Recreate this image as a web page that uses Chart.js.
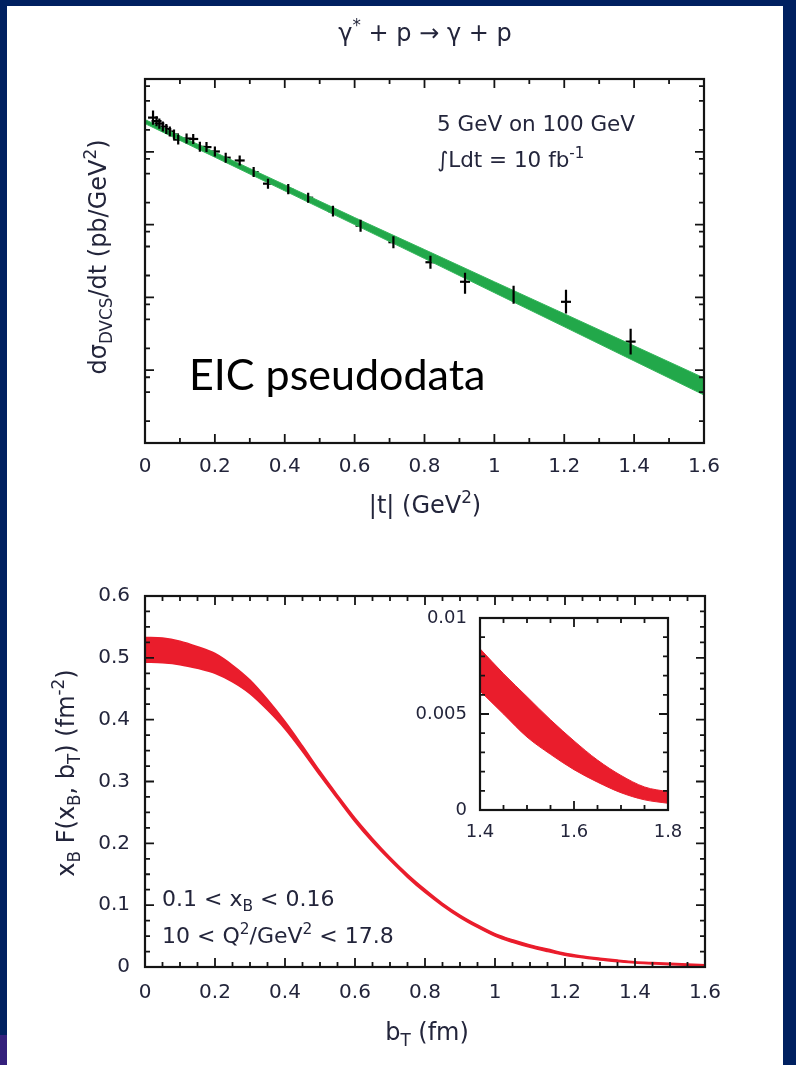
<!DOCTYPE html>
<html>
<head>
<meta charset="utf-8">
<script src="https://cdn.jsdelivr.net/npm/chart.js@4.4.1/dist/chart.umd.min.js"></script>
<style>
  html, body { margin: 0; padding: 0; }
  body { width: 796px; height: 1065px; background: #002060; position: relative; overflow: hidden; }
  #panel { position: absolute; left: 7px; top: 6px; width: 776px; height: 1059px; background: #fff; }
  #strip { position: absolute; left: 0; top: 1035px; width: 7px; height: 30px; background: #34207c; }
  canvas { position: absolute; left: 0; top: 0; }
</style>
</head>
<body>
<div id="panel"></div>
<div id="strip"></div>
<canvas id="dvcs" width="796" height="1065"></canvas>
<canvas id="profile" width="796" height="1065"></canvas>
<canvas id="tail" width="796" height="1065"></canvas>
<script>
// ---- DVCS cross section: pseudodata (5 GeV on 100 GeV, 10 fb^-1) ----
const tData   = [0.023, 0.033, 0.041, 0.051, 0.061, 0.071, 0.083, 0.095, 0.119, 0.138, 0.157, 0.176, 0.200, 0.231,
                 0.271, 0.311, 0.352, 0.410, 0.467, 0.538, 0.617, 0.711, 0.817, 0.916, 1.055, 1.205, 1.390];
const sigma   = [295, 264, 244, 222, 205, 190, 173, 147, 152, 150, 117, 116, 101, 83,
                 76, 52.6, 36.5, 30.7, 23.4, 15.3, 9.66, 5.73, 3.04, 1.64, 1.09, 0.87, 0.247];
const sigmaLo = [236, 225, 208, 190, 175, 162, 148, 126, 130, 128, 100, 99, 86, 71,
                 65, 44.9, 31.2, 26.2, 20.0, 12.9, 8.0, 4.74, 2.48, 1.12, 0.82, 0.60, 0.164];
const sigmaHi = [368, 309, 286, 260, 240, 222, 203, 172, 178, 176, 137, 136, 118, 97,
                 89, 61.6, 42.7, 36.0, 27.4, 18.1, 11.7, 6.93, 3.72, 2.18, 1.45, 1.27, 0.372];

// model band for dsigma/dt
const tBand  = [0, 0.2, 0.4, 0.6, 0.8, 1.0, 1.2, 1.4, 1.6];
const bandLo = [244, 84.3, 29.1, 10.0, 3.42, 1.16, 0.395, 0.134, 0.0457];
const bandHi = [277, 98.7, 35.2, 12.5, 4.54, 1.64, 0.596, 0.216, 0.0783];

// ---- impact-parameter profile x_B F(x_B, b_T) ----
const bT  = [0, 0.05, 0.1, 0.15, 0.2, 0.25, 0.3, 0.35, 0.4, 0.45, 0.5, 0.55, 0.6, 0.65, 0.7, 0.75, 0.8,
             0.85, 0.9, 0.95, 1.0, 1.05, 1.1, 1.15, 1.2, 1.25, 1.3, 1.35, 1.4, 1.45, 1.5, 1.55, 1.6];
const fLo = [0.493, 0.492, 0.489, 0.483, 0.475, 0.461, 0.442, 0.4155, 0.385, 0.3485, 0.3095, 0.272, 0.235,
             0.202, 0.1725, 0.145, 0.1205, 0.099, 0.080, 0.064, 0.050, 0.040, 0.0318, 0.025, 0.0188, 0.0148,
             0.0113, 0.0086, 0.0063, 0.0050, 0.0038, 0.0029, 0.0021];
const fHi = [0.533, 0.532, 0.527, 0.518, 0.507, 0.488, 0.464, 0.4325, 0.397, 0.3575, 0.3165, 0.278, 0.241,
             0.208, 0.1775, 0.150, 0.1255, 0.103, 0.084, 0.068, 0.054, 0.044, 0.0358, 0.029, 0.0222, 0.0178,
             0.0143, 0.0112, 0.0086, 0.0071, 0.0059, 0.0047, 0.0036];

// tail of the profile (inset)
const bTail   = [1.40, 1.45, 1.50, 1.55, 1.60, 1.65, 1.70, 1.75, 1.80];
const fTailLo = [0.0062, 0.0050, 0.0038, 0.0029, 0.0021, 0.00145, 0.0009, 0.00053, 0.00035];
const fTailHi = [0.0084, 0.0071, 0.0059, 0.0047, 0.0036, 0.0026, 0.0018, 0.0012, 0.00095];

// ---- tick values and labels ----
const tTicks    = [0, 0.2, 0.4, 0.6, 0.8, 1, 1.2, 1.4, 1.6];
const tLabels   = ['0', '0.2', '0.4', '0.6', '0.8', '1', '1.2', '1.4', '1.6'];
const sigDecades = [0.01, 0.1, 1, 10, 100, 1000];
const sigMinor   = [0.02, 0.05, 0.08, 0.2, 0.5, 0.8, 2, 5, 8, 20, 50, 80, 200, 500, 800];
const bTicks    = [0, 0.2, 0.4, 0.6, 0.8, 1, 1.2, 1.4, 1.6];
const bLabels   = ['0', '0.2', '0.4', '0.6', '0.8', '1', '1.2', '1.4', '1.6'];
const fTicks    = [0, 0.1, 0.2, 0.3, 0.4, 0.5, 0.6];
const fLabels   = ['0', '0.1', '0.2', '0.3', '0.4', '0.5', '0.6'];
const tailBTicks  = [1.4, 1.6, 1.8];
const tailBLabels = ['1.4', '1.6', '1.8'];
const tailFTicks  = [0, 0.005, 0.01];
const tailFLabels = ['0', '0.005', '0.01'];

const GREEN = '#22a84a';
const RED = '#ea1d2c';
const INK = '#23253b';
const FAM = "'DejaVu Sans', sans-serif";

Chart.defaults.font.family = FAM;
Chart.defaults.color = INK;

// evenly spaced minor tick positions, skipping the major ones
function minorTicks(from, to, step, majors) {
  const out = [];
  const n = Math.round((to - from) / step);
  for (let i = 0; i <= n; i++) {
    const v = +(from + i * step).toFixed(6);
    if (!majors.some(m => Math.abs(m - v) < step / 10)) out.push(v);
  }
  return out;
}

// gnuplot-style frame with inward ticks on all four sides
function frame(cfg) {
  return {
    id: 'frame',
    beforeDatasetsDraw(chart) {
      if (!cfg.white) return;
      const { ctx, chartArea: a } = chart;
      ctx.save();
      ctx.fillStyle = '#fff';
      ctx.fillRect(a.left, a.top, a.right - a.left, a.bottom - a.top);
      ctx.restore();
    },
    afterDatasetsDraw(chart) {
      const { ctx, chartArea: a } = chart;
      const sx = chart.scales.x, sy = chart.scales.y;
      ctx.save();
      ctx.strokeStyle = '#141414';
      ctx.lineWidth = 1.8;
      ctx.beginPath();
      const vx = (v, len) => {
        const p = sx.getPixelForValue(v);
        ctx.moveTo(p, a.bottom); ctx.lineTo(p, a.bottom - len);
        ctx.moveTo(p, a.top); ctx.lineTo(p, a.top + len);
      };
      const vy = (v, len) => {
        const p = sy.getPixelForValue(v);
        ctx.moveTo(a.left, p); ctx.lineTo(a.left + len, p);
        ctx.moveTo(a.right, p); ctx.lineTo(a.right - len, p);
      };
      cfg.xMajor.forEach(v => vx(v, cfg.major));
      cfg.xMinor.forEach(v => vx(v, cfg.minor));
      cfg.yMajor.forEach(v => vy(v, cfg.major));
      cfg.yMinor.forEach(v => vy(v, cfg.minor));
      ctx.stroke();
      ctx.lineWidth = 2.2;
      ctx.strokeRect(a.left, a.top, a.right - a.left, a.bottom - a.top);
      ctx.restore();
    }
  };
}

// text with sub/superscripts: parts = [[text, kind]], kind 0 normal, 1 sub, 2 sup
function rich(ctx, parts, x, y, size, align, rot, family) {
  const fam = family || FAM;
  ctx.save();
  ctx.translate(x, y);
  if (rot) ctx.rotate(rot);
  ctx.textBaseline = 'alphabetic';
  ctx.textAlign = 'left';
  let w = 0;
  const widths = parts.map(([t, k]) => {
    ctx.font = (k ? size * 0.7 : size) + 'px ' + fam;
    const m = ctx.measureText(t).width;
    w += m;
    return m;
  });
  let cx = align === 'center' ? -w / 2 : align === 'right' ? -w : 0;
  parts.forEach(([t, k], i) => {
    ctx.font = (k ? size * 0.7 : size) + 'px ' + fam;
    const dy = k === 1 ? size * 0.24 : k === 2 ? -size * 0.42 : 0;
    ctx.fillText(t, cx, dy);
    cx += widths[i];
  });
  ctx.restore();
}

const fixedTicks = (vals) => function (s) { s.ticks = vals.map(v => ({ value: v })); };
const plainGrid = { display: false, drawTicks: false };

// ---------------- upper panel: dsigma/dt ----------------
const errorBars = {
  id: 'errorBars',
  afterDatasetsDraw(chart) {
    const { ctx } = chart;
    const sx = chart.scales.x, sy = chart.scales.y;
    ctx.save();
    ctx.strokeStyle = '#000';
    ctx.lineWidth = 2.2;
    ctx.beginPath();
    tData.forEach((t, i) => {
      const px = sx.getPixelForValue(t);
      ctx.moveTo(px, sy.getPixelForValue(sigmaLo[i]));
      ctx.lineTo(px, sy.getPixelForValue(sigmaHi[i]));
    });
    ctx.stroke();
    ctx.restore();
  }
};

const dvcsText = {
  id: 'dvcsText',
  afterDraw(chart) {
    const ctx = chart.ctx;
    ctx.fillStyle = INK;
    rich(ctx, [['γ', 0], ['*', 2], [' + p → γ + p', 0]], 425, 41, 24, 'center');
    rich(ctx, [['5 GeV on 100 GeV', 0]], 437, 131, 21.5, 'left');
    rich(ctx, [['∫Ldt = 10 fb', 0], ['-1', 2]], 437, 167, 21.5, 'left');
    rich(ctx, [['|t| (GeV', 0], ['2', 2], [')', 0]], 425, 513, 24, 'center');
    rich(ctx, [['dσ', 0], ['DVCS', 1], ['/dt (pb/GeV', 0], ['2', 2], [')', 0]], 106, 257, 24, 'center', -Math.PI / 2);
    ctx.fillStyle = '#000';
    rich(ctx, [['EIC pseudodata', 0]], 189, 390, 43, 'left', 0, "Lato, 'Open Sans', sans-serif");
  }
};

new Chart(document.getElementById('dvcs'), {
  type: 'line',
  data: {
    datasets: [
      { data: tBand.map((t, i) => ({ x: t, y: bandLo[i] })), borderColor: '#35b65c', borderWidth: 1, pointRadius: 0, fill: false },
      { data: tBand.map((t, i) => ({ x: t, y: bandHi[i] })), borderColor: '#35b65c', borderWidth: 1, pointRadius: 0, fill: '-1', backgroundColor: GREEN },
      { type: 'scatter', data: tData.map((t, i) => ({ x: t, y: sigma[i] })), showLine: false,
        pointStyle: 'line', pointRadius: 5, pointBorderColor: '#000', pointBorderWidth: 2.2, borderColor: '#000' }
    ]
  },
  options: {
    responsive: false, animation: false, devicePixelRatio: 1,
    layout: { padding: { left: 0, top: 79, right: 92, bottom: 562 } },
    plugins: { legend: { display: false }, tooltip: { enabled: false } },
    scales: {
      x: {
        type: 'linear', min: 0, max: 1.6, grid: plainGrid, border: { display: false },
        afterBuildTicks: fixedTicks(tTicks),
        ticks: { padding: 12, font: { size: 20 }, maxRotation: 0, autoSkip: false, callback: (v, i) => tLabels[i] },
        afterFit(s) { s.height = 60; }
      },
      y: {
        type: 'logarithmic', min: 0.01, max: 1000, grid: plainGrid, border: { display: false },
        ticks: { display: false },
        afterFit(s) { s.width = 145; }
      }
    }
  },
  plugins: [
    frame({ xMajor: tTicks, xMinor: minorTicks(0, 1.6, 0.1, tTicks), yMajor: sigDecades, yMinor: sigMinor, major: 9, minor: 5 }),
    errorBars, dvcsText
  ]
});

// ---------------- lower panel: transverse profile ----------------
const profileText = {
  id: 'profileText',
  afterDraw(chart) {
    const ctx = chart.ctx;
    ctx.fillStyle = INK;
    rich(ctx, [['0.1 < x', 0], ['B', 1], [' < 0.16', 0]], 162, 906, 22, 'left');
    rich(ctx, [['10 < Q', 0], ['2', 2], ['/GeV', 0], ['2', 2], [' < 17.8', 0]], 162, 943, 22, 'left');
    rich(ctx, [['b', 0], ['T', 1], [' (fm)', 0]], 427, 1040, 24, 'center');
    rich(ctx, [['x', 0], ['B', 1], [' F(x', 0], ['B', 1], [', b', 0], ['T', 1], [') (fm', 0], ['-2', 2], [')', 0]],
         74, 773, 24, 'center', -Math.PI / 2);
  }
};

new Chart(document.getElementById('profile'), {
  type: 'line',
  data: {
    datasets: [
      { data: bT.map((b, i) => ({ x: b, y: fLo[i] })), borderColor: RED, borderWidth: 1.5, pointRadius: 0, fill: false, cubicInterpolationMode: 'monotone' },
      { data: bT.map((b, i) => ({ x: b, y: fHi[i] })), borderColor: RED, borderWidth: 1.5, pointRadius: 0, fill: '-1', backgroundColor: RED, cubicInterpolationMode: 'monotone' }
    ]
  },
  options: {
    responsive: false, animation: false, devicePixelRatio: 1,
    layout: { padding: { left: 0, top: 596, right: 91, bottom: 38 } },
    plugins: { legend: { display: false }, tooltip: { enabled: false } },
    scales: {
      x: {
        type: 'linear', min: 0, max: 1.6, grid: plainGrid, border: { display: false },
        afterBuildTicks: fixedTicks(bTicks),
        ticks: { padding: 14, font: { size: 20 }, maxRotation: 0, autoSkip: false, callback: (v, i) => bLabels[i] },
        afterFit(s) { s.height = 60; }
      },
      y: {
        type: 'linear', min: 0, max: 0.6, grid: plainGrid, border: { display: false },
        afterBuildTicks: fixedTicks(fTicks),
        ticks: { padding: 15, font: { size: 20 }, autoSkip: false, callback: (v, i) => fLabels[i] },
        afterFit(s) { s.width = 145; }
      }
    }
  },
  plugins: [
    frame({ xMajor: bTicks, xMinor: minorTicks(0, 1.6, 0.05, bTicks), yMajor: fTicks, yMinor: minorTicks(0, 0.6, 0.025, fTicks), major: 9, minor: 5 }),
    profileText
  ]
});

// ---------------- inset: large-b_T tail ----------------
new Chart(document.getElementById('tail'), {
  type: 'line',
  data: {
    datasets: [
      { data: bTail.map((b, i) => ({ x: b, y: fTailLo[i] })), borderColor: RED, borderWidth: 1, pointRadius: 0, fill: false, cubicInterpolationMode: 'monotone' },
      { data: bTail.map((b, i) => ({ x: b, y: fTailHi[i] })), borderColor: RED, borderWidth: 1, pointRadius: 0, fill: '-1', backgroundColor: RED, cubicInterpolationMode: 'monotone' }
    ]
  },
  options: {
    responsive: false, animation: false, devicePixelRatio: 1,
    layout: { padding: { left: 0, top: 618, right: 128, bottom: 195 } },
    plugins: { legend: { display: false }, tooltip: { enabled: false } },
    scales: {
      x: {
        type: 'linear', min: 1.4, max: 1.8, grid: plainGrid, border: { display: false },
        afterBuildTicks: fixedTicks(tailBTicks),
        ticks: { padding: 12, font: { size: 18 }, maxRotation: 0, autoSkip: false, callback: (v, i) => tailBLabels[i] },
        afterFit(s) { s.height = 60; }
      },
      y: {
        type: 'linear', min: 0, max: 0.01, grid: plainGrid, border: { display: false },
        afterBuildTicks: fixedTicks(tailFTicks),
        ticks: { padding: 13, font: { size: 18 }, autoSkip: false, callback: (v, i) => tailFLabels[i] },
        afterFit(s) { s.width = 480; }
      }
    }
  },
  plugins: [
    frame({ white: true, xMajor: tailBTicks, xMinor: minorTicks(1.4, 1.8, 0.05, tailBTicks), yMajor: tailFTicks, yMinor: minorTicks(0, 0.01, 0.001, tailFTicks), major: 9, minor: 5 })
  ]
});
</script>
</body>
</html>
